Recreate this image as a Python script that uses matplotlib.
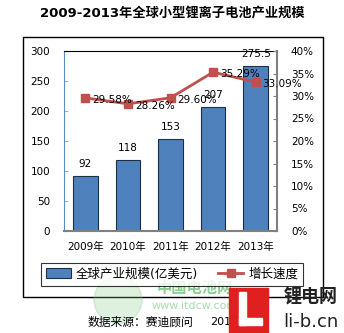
import matplotlib
matplotlib.use("Agg")
import matplotlib.pyplot as plt
from matplotlib.patches import Rectangle, Patch, Circle
from matplotlib.lines import Line2D

plt.rcParams['font.family'] = ['DejaVu Sans', 'Noto Sans CJK SC']

years = ['2009年', '2010年', '2011年', '2012年', '2013年']
market_size = [92, 118, 153, 207, 275.5]
growth_rate = [29.58, 28.26, 29.60, 35.29, 33.09]
left_ticks = [0, 50, 100, 150, 200, 250, 300]
right_ticks = [0, 5, 10, 15, 20, 25, 30, 35, 40]

W, H = 344, 333
fig = plt.figure(figsize=(W / 100, H / 100), dpi=100)

def fx(px):
    return px / W

def fy(py):
    return 1 - py / H

# outer chart frame
fig.add_artist(Rectangle((fx(23), fy(297)), fx(323) - fx(23), fy(37) - fy(297),
                         transform=fig.transFigure, fill=False, ec='black', lw=1.0))

fig.text(0.5, fy(14), '2009-2013年全球小型锂离子电池产业规模', ha='center', va='center',
         fontsize=9.5, fontweight='bold')

ax = fig.add_axes([fx(64), fy(231), fx(277) - fx(64), fy(51) - fy(231)])
bar_color = '#4F81BD'
line_color = '#C0504D'
x = range(len(years))
ax.bar(x, market_size, width=0.58, color=bar_color, edgecolor='#1F2F45', linewidth=0.8, zorder=2)
ax.set_ylim(0, 300)
ax.set_xlim(-0.5, len(years) - 0.5)
ax.set_yticks(left_ticks)
ax.set_xticks(list(x))
ax.set_xticklabels(years, fontsize=7.5)
ax.tick_params(axis='y', direction='in', length=3, color='#8DB3E2', labelsize=7.5, pad=10)
ax.tick_params(axis='x', length=0, labelsize=7.5, pad=8)
ax.spines['left'].set_color('#5B8BC9')
ax.spines['top'].set_color('black')
ax.spines['right'].set_visible(False)
ax.spines['bottom'].set_color('#808080')
ax.spines['bottom'].set_linewidth(1.5)
for i, v in enumerate(market_size):
    ax.annotate(f'{v:g}', (i, v), xytext=(0, 5), textcoords='offset points',
                ha='center', va='bottom', fontsize=7.5, zorder=5)

ax2 = ax.twinx()
ax2.set_ylim(0, 40)
ax2.set_yticks(right_ticks)
ax2.set_yticklabels([f'{t}%' for t in right_ticks])
ax2.tick_params(axis='y', direction='in', length=3, color='#808080', labelsize=7.5, pad=10)
for s in ['left', 'top', 'bottom']:
    ax2.spines[s].set_visible(False)
ax2.spines['right'].set_color('#808080')
ax2.spines['right'].set_linewidth(1.5)
ax2.plot(list(x), growth_rate, color=line_color, lw=2, marker='s', markersize=6,
         markeredgecolor=line_color, zorder=4)
for i, v in enumerate(growth_rate):
    ax2.annotate(f'{v:.2f}%', (i, v), xytext=(5, -1.5), textcoords='offset points',
                 ha='left', va='center', fontsize=7.5, zorder=5)

handles = [Patch(facecolor=bar_color, edgecolor='#1F2F45', linewidth=0.8),
           Line2D([0], [0], color=line_color, lw=2, marker='s', markersize=6)]
leg = fig.legend(handles, ['全球产业规模(亿美元)', '增长速度'], ncol=2,
                 loc='center', bbox_to_anchor=(fx(172), fy(274)), fontsize=9,
                 frameon=True, fancybox=False, edgecolor='black', handlelength=2.0,
                 handleheight=0.9, columnspacing=1.6, borderpad=0.4, handletextpad=0.4)
leg.get_frame().set_linewidth(0.8)

# watermark logos
fig.add_artist(Circle((fx(118), fy(300)), 0.07, transform=fig.transFigure,
                      color='#7CC47F', alpha=0.25, zorder=1))
fig.text(fx(195), fy(288), '中国电池网', ha='center', va='center', fontsize=11,
         color='#3FAE49', alpha=0.6, fontweight='bold')
fig.text(fx(195), fy(306), 'www.itdcw.com', ha='center', va='center', fontsize=8,
         color='#3FAE49', alpha=0.45)
fig.add_artist(Rectangle((fx(229), fy(333)), fx(268) - fx(229), fy(288) - fy(333),
                         transform=fig.transFigure, color='#E02020', zorder=6))
fig.add_artist(Rectangle((fx(239), fy(325)), fx(246) - fx(239), fy(292) - fy(325),
                         transform=fig.transFigure, color='white', zorder=7))
fig.add_artist(Rectangle((fx(239), fy(325)), fx(262) - fx(239), fy(318) - fy(325),
                         transform=fig.transFigure, color='white', zorder=7))
fig.text(fx(311), fy(298), '锂电网', ha='center', va='center', fontsize=13,
         fontweight='bold', color='#222222', zorder=8)
fig.text(fx(311), fy(322), 'li-b.cn', ha='center', va='center', fontsize=13,
         color='#222222', zorder=8)

fig.text(fx(88), fy(322), '数据来源：赛迪顾问', ha='left', va='center', fontsize=8.5)
fig.text(fx(210), fy(322), '2014.02', ha='left', va='center', fontsize=8, zorder=5)

fig.savefig('out.png', dpi=100)
